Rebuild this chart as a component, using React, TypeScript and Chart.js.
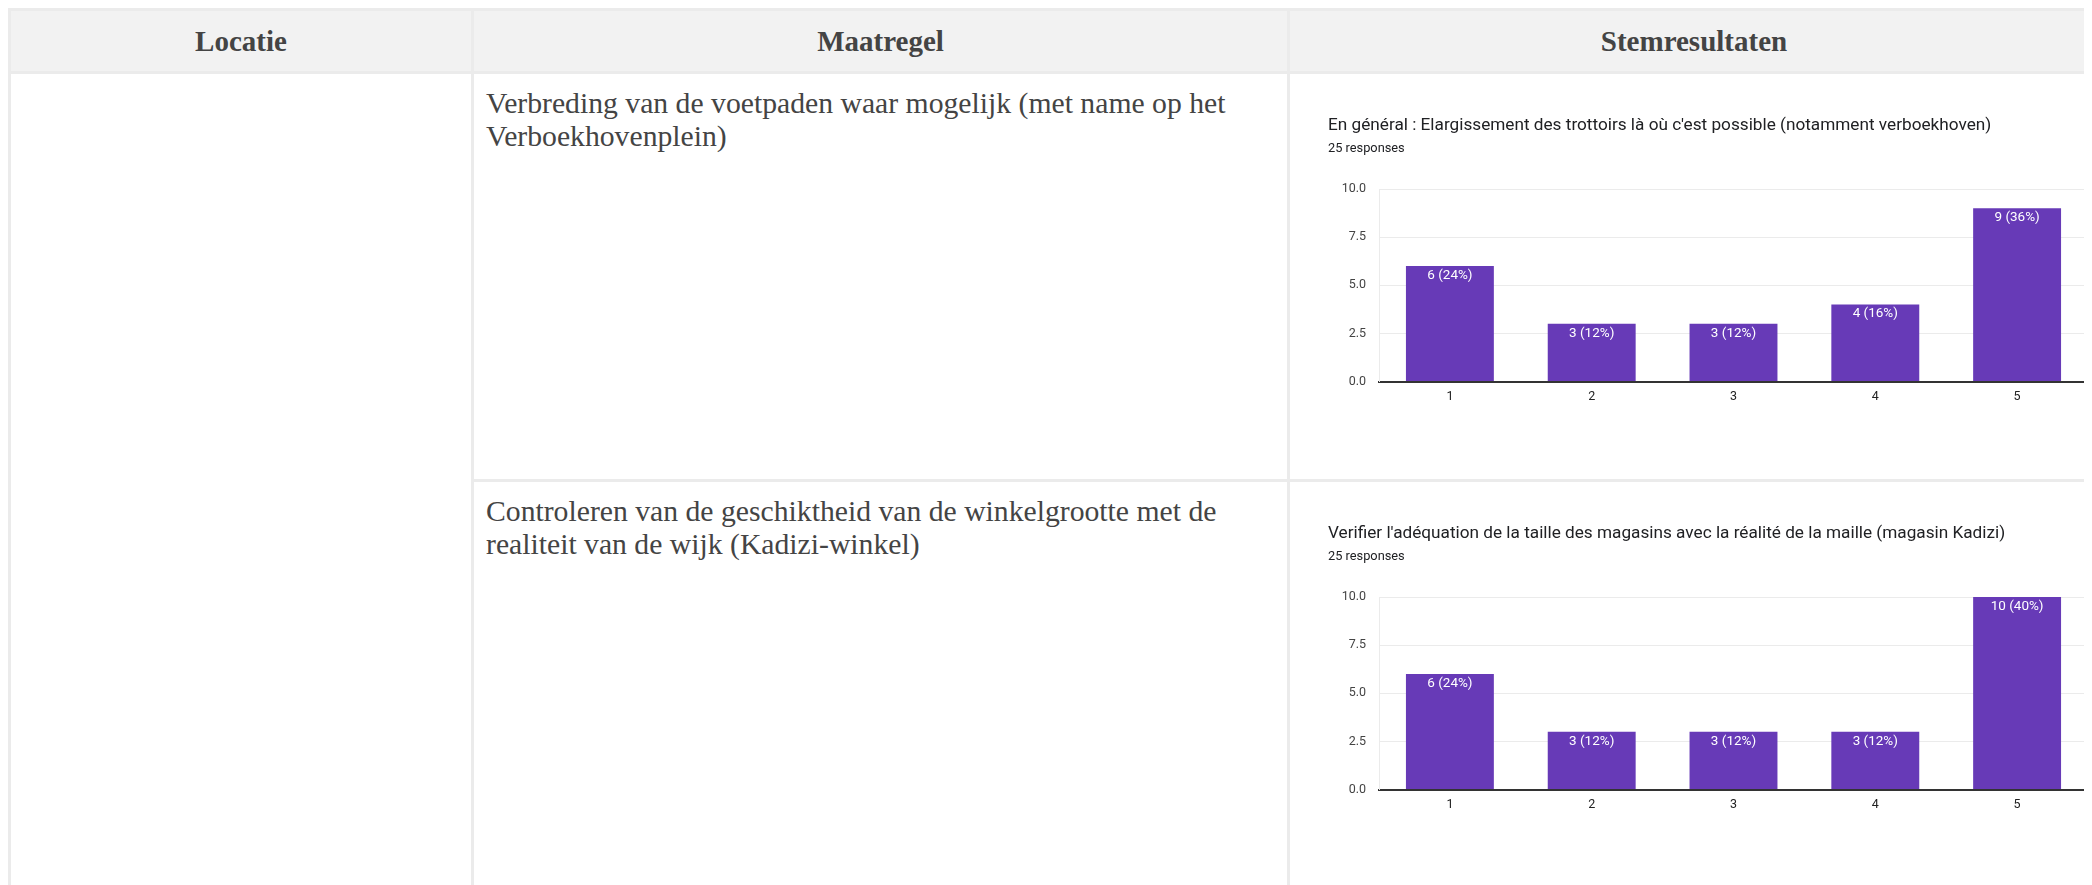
import React, { useEffect, useRef } from "react";
import { Chart, registerables } from "chart.js";

Chart.register(...registerables);

// ---- Data ----
const headers = ["Locatie", "Maatregel", "Stemresultaten"];
const measures = [
  "Verbreding van de voetpaden waar mogelijk (met name op het Verboekhovenplein)",
  "Controleren van de geschiktheid van de winkelgrootte met de realiteit van de wijk (Kadizi-winkel)",
];
const chartTitles = [
  "En général : Elargissement des trottoirs là où c'est possible (notamment verboekhoven)",
  "Verifier l'adéquation de la taille des magasins avec la réalité de la maille (magasin Kadizi)",
];
const categories = ["1", "2", "3", "4", "5"];
const votesWidening = [6, 3, 3, 4, 9];
const votesShopSize = [6, 3, 3, 3, 10];
const seriesList = [votesWidening, votesShopSize];
const yTicksMax = 10;
const yTickStep = 2.5;

const BAR_COLOR = "#673ab7";

const barLabels = {
  id: "barLabels",
  afterDatasetsDraw(chart: any) {
    const ctx = chart.ctx;
    const ds = chart.data.datasets[0];
    const vals = ds.data as number[];
    const total = vals.reduce((a, b) => a + b, 0);
    const meta = chart.getDatasetMeta(0);
    ctx.save();
    ctx.fillStyle = "#ffffff";
    ctx.font = "13.5px Roboto";
    ctx.textAlign = "center";
    ctx.textBaseline = "middle";
    meta.data.forEach((bar: any, i: number) => {
      const v = vals[i];
      const pct = Math.round((v / total) * 100);
      ctx.fillText(`${v} (${pct}%)`, bar.x, bar.y + 9.5);
    });
    ctx.restore();
  },
};

function BarChart({ title, values }: { title: string; values: number[] }) {
  const ref = useRef<HTMLCanvasElement | null>(null);
  useEffect(() => {
    if (!ref.current) return;
    const total = values.reduce((a, b) => a + b, 0);
    const chart = new Chart(ref.current, {
      type: "bar",
      data: {
        labels: categories,
        datasets: [
          {
            data: values,
            backgroundColor: BAR_COLOR,
            categoryPercentage: 1,
            barPercentage: 0.62,
          },
        ],
      },
      options: {
        animation: false,
        responsive: false,
        layout: { padding: { left: 38, right: 10, top: 0, bottom: 66.5 } },
        plugins: {
          legend: { display: false },
          tooltip: { enabled: false },
          title: {
            display: true,
            text: title,
            align: "start",
            color: "#202124",
            font: { family: "Roboto", size: 17.2, weight: "normal" },
            padding: { top: 41.7, bottom: 0 },
          },
          subtitle: {
            display: true,
            text: `${total} responses`,
            align: "start",
            color: "#202124",
            font: { family: "Roboto", size: 12.8 },
            padding: { top: 4.5, bottom: 32.8 },
          },
        },
        scales: {
          x: {
            grid: { display: false, drawTicks: false },
            border: { display: true, color: "#333333", width: 2 },
            ticks: {
              color: "#222222",
              padding: 8,
              font: { family: "Roboto", size: 12.5 },
            },
          },
          y: {
            min: 0,
            max: yTicksMax,
            grid: { color: "#ebebeb", lineWidth: 1, drawTicks: false },
            border: { display: true, color: "#ebebeb", width: 1 },
            ticks: {
              stepSize: yTickStep,
              color: "#444444",
              padding: 13,
              font: { family: "Roboto", size: 12.5 },
              callback: (v: any) => Number(v).toFixed(1),
            },
            afterFit: (scale: any) => {
              scale.width = 51;
            },
          },
        },
      },
      plugins: [barLabels],
    });
    return () => chart.destroy();
  }, [title, values]);
  return <canvas ref={ref} width={808} height={405} style={{ display: "block" }} />;
}

export default function App() {
  useEffect(() => {
    document.body.style.overflow = "hidden";
    document.documentElement.style.overflow = "hidden";
  }, []);
  const serif = "'Liberation Serif', 'Times New Roman', serif";
  const headerCell: React.CSSProperties = {
    background: "#f2f2f2",
    display: "flex",
    alignItems: "center",
    justifyContent: "center",
    fontFamily: serif,
    fontWeight: "bold",
    fontSize: 29,
    color: "#444444",
  };
  const textCell: React.CSSProperties = {
    background: "#ffffff",
    fontFamily: serif,
    fontSize: 29.7,
    color: "#444444",
    padding: "13px 12px 0 12px",
    boxSizing: "border-box",
  };
  return (
    <div
      style={{
        display: "inline-grid",
        gridTemplateColumns: "460px 813px 808px",
        gridTemplateRows: "60px 405px 405px",
        gap: 3,
        padding: 3,
        background: "#ebebeb",
        width: "max-content",
        verticalAlign: "top",
      }}
    >
      {headers.map((h) => (
        <div key={h} style={headerCell}>
          {h}
        </div>
      ))}
      <div style={{ background: "#ffffff", gridRow: "2 / span 2", gridColumn: 1 }} />
      {measures.map((m, i) => (
        <React.Fragment key={i}>
          <div style={{ ...textCell, gridRow: i + 2, gridColumn: 2 }}>{m}</div>
          <div style={{ background: "#ffffff", gridRow: i + 2, gridColumn: 3 }}>
            <BarChart title={chartTitles[i]} values={seriesList[i]} />
          </div>
        </React.Fragment>
      ))}
    </div>
  );
}
